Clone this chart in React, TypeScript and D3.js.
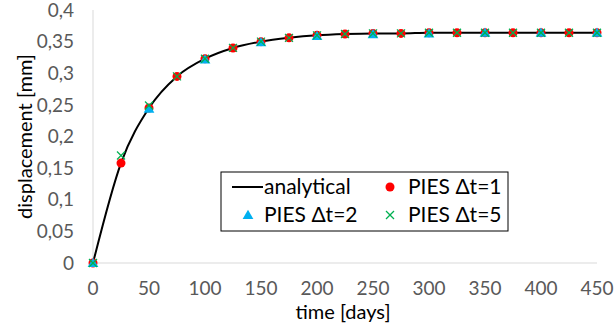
import React from "react";
import * as d3 from "d3";

const days = [0, 25, 50, 75, 100, 125, 150, 175, 200, 225, 250, 275, 300, 325, 350, 375, 400, 425, 450];
const analytical = [0, 0.158, 0.245, 0.295, 0.323, 0.340, 0.350, 0.356, 0.360, 0.362, 0.363, 0.363, 0.364, 0.364, 0.364, 0.364, 0.364, 0.364, 0.364];
const pies1 = [0, 0.158, 0.245, 0.295, 0.323, 0.340, 0.350, 0.356, 0.360, 0.362, 0.363, 0.363, 0.364, 0.364, 0.364, 0.364, 0.364, 0.364, 0.364];
const days2 = [0, 50, 100, 150, 200, 250, 300, 350, 400, 450];
const pies2 = [0, 0.244, 0.322, 0.349, 0.359, 0.362, 0.363, 0.364, 0.364, 0.364];
const pies5 = [0, 0.170, 0.249, 0.295, 0.323, 0.340, 0.350, 0.356, 0.360, 0.362, 0.363, 0.363, 0.364, 0.364, 0.364, 0.364, 0.364, 0.364, 0.364];
const xTicks = [0, 50, 100, 150, 200, 250, 300, 350, 400, 450];
const yTicks = [0, 0.05, 0.1, 0.15, 0.2, 0.25, 0.3, 0.35, 0.4];

const font = "Lato, 'Open Sans', sans-serif";

export default function App() {
  const x = d3.scaleLinear().domain([0, 450]).range([93, 597]);
  const y = d3.scaleLinear().domain([0, 0.4]).range([263, 10]);
  const line = d3
    .line<number>()
    .x((d, i) => x(days[i]))
    .y(d => y(d))
    .curve(d3.curveMonotoneX);
  const fmt = (v: number) => String(+v.toFixed(2)).replace(".", ",");
  const tri = d3.symbol().type(d3.symbolTriangle).size(50)();

  const cross = (cx: number, cy: number, key: string) => (
    <g key={key} stroke="#00b050" strokeWidth={1.2}>
      <line x1={cx - 4} y1={cy - 4} x2={cx + 4} y2={cy + 4} />
      <line x1={cx - 4} y1={cy + 4} x2={cx + 4} y2={cy - 4} />
    </g>
  );

  return (
    <svg width={614} height={326} style={{ position: "absolute", left: 0, top: 0 }} fontFamily={font}>
      <rect width={614} height={326} fill="#fff" />
      <line x1={x(0)} x2={x(0)} y1={y(0)} y2={y(0.4)} stroke="#d9d9d9" />
      <line x1={x(0)} x2={x(450)} y1={y(0)} y2={y(0)} stroke="#d9d9d9" />
      {yTicks.map(t => (
        <text key={t} x={74} y={y(t)} dy="0.35em" textAnchor="end" fontSize={19} fill="#595959">
          {fmt(t)}
        </text>
      ))}
      {xTicks.map(t => (
        <text key={t} x={x(t)} y={288} dy="0.35em" textAnchor="middle" fontSize={19} fill="#595959">
          {t}
        </text>
      ))}
      <text x={343} y={312} dy="0.35em" textAnchor="middle" fontSize={20} fill="#000">
        time [days]
      </text>
      <text transform={`translate(25,${y(0.2)}) rotate(-90)`} dy="0.35em" textAnchor="middle" fontSize={20} fill="#000">
        displacement [mm]
      </text>
      <path d={line(analytical) || ""} fill="none" stroke="#000" strokeWidth={2} />
      {pies1.map((v, i) => (
        <circle key={"a" + i} cx={x(days[i])} cy={y(v)} r={4.5} fill="#ff0000" />
      ))}
      {pies2.map((v, i) => (
        <path key={"b" + i} d={tri || ""} transform={`translate(${x(days2[i])},${y(v) + 1})`} fill="#00b0f0" />
      ))}
      {pies5.map((v, i) => cross(x(days[i]), y(v), "c" + i))}
      <g>
        <rect x={221} y={172} width={287} height={59} fill="#fff" stroke="#000" strokeWidth={1} />
        <line x1={232} x2={263} y1={187} y2={187} stroke="#000" strokeWidth={2} />
        <text x={264} y={187} dy="0.35em" fontSize={21}>analytical</text>
        <circle cx={390} cy={187} r={4.5} fill="#ff0000" />
        <text x={408} y={187} dy="0.35em" fontSize={21}>PIES Δt=1</text>
        <path d={tri || ""} transform={`translate(248,216)`} fill="#00b0f0" />
        <text x={264} y={215} dy="0.35em" fontSize={21}>PIES Δt=2</text>
        {cross(390, 215, "lc")}
        <text x={408} y={215} dy="0.35em" fontSize={21}>PIES Δt=5</text>
      </g>
    </svg>
  );
}
